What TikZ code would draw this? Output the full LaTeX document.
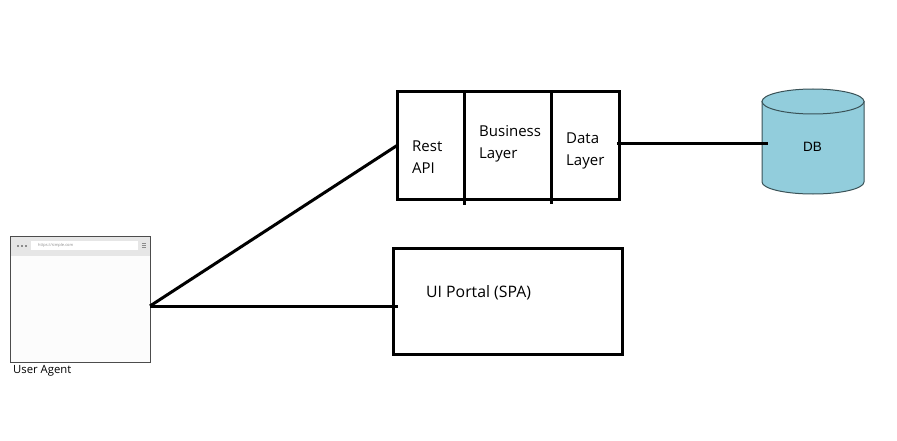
\documentclass[tikz,border=0pt]{standalone}
\usepackage{fontspec}
\setmainfont{Open Sans}
\newfontfamily\dbfont{Liberation Sans}
\definecolor{dbfill}{HTML}{92CDDC}
\definecolor{dbline}{HTML}{3A5257}
\definecolor{barfill}{HTML}{E6E6E6}
\definecolor{pagefill}{HTML}{FCFCFC}
\definecolor{iconfill}{HTML}{8C8C8C}
\tikzset{
    cellbox/.style={draw, line width=3pt, minimum height=107pt, inner sep=0pt, outer sep=0pt},
    link/.style={line width=3pt},
    boxlabel/.style={font=\fontsize{15}{22}\selectfont, align=left, anchor=west, inner sep=0pt},
}

\begin{document}
\begin{tikzpicture}[x=1pt, y=-1pt]
    \useasboundingbox (0,0) rectangle (897,441);
    % user agent window
    \node[draw=black!70, fill=pagefill, line width=1pt, minimum width=139.5pt, minimum height=126pt, inner sep=0pt, outer sep=0pt] (browser) at (80.25,299) {};
    \fill[barfill] (11,236.5) rectangle (149.5,256);
    \node[fill=white, minimum width=107pt, minimum height=9pt, inner sep=0pt] (urlbar) at (84.5,245.5) {};
    \node[anchor=west, font=\fontsize{4}{4}\selectfont, text=black!45, inner sep=0pt] (urltext) at (38,245.5) {https://simple.com};
    \foreach \x in {16.5,20.5,24.5}
        \fill[iconfill] (\x,244.5) rectangle +(2,2);
    \foreach \y in {243,245,247}
        \fill[iconfill] (141.5,\y) rectangle +(4,1);
    \node[anchor=west, font=\fontsize{11.3}{13}\selectfont, inner sep=0pt] (agentlabel) at (13,371) {User Agent};
    % layers
    \node[cellbox, minimum width=67.5pt] (restapi) at (430.75,145.5) {};
    \node[cellbox, minimum width=87pt] (business) at (508,145.5) {};
    \node[cellbox, minimum width=67.5pt] (datalayer) at (585.25,145.5) {};
    \draw[link] (business.north west) -- ++(0,113);
    \draw[link] (business.north east) -- ++(0,112);
    \node[boxlabel] (restlabel) at (412,157) {Rest\\API};
    \node[boxlabel] (businesslabel) at (479,144) {Business\\Layer};
    \node[boxlabel] (datalabel) at (566,151) {Data\\Layer};
    \node[draw, line width=3pt, minimum width=229pt, minimum height=106pt, inner sep=0pt, outer sep=0pt] (portal) at (507.5,301) {};
    \node[boxlabel, font=\fontsize{15.8}{22}\selectfont] (portallabel) at (426,293) {UI Portal (SPA)};
    % db
    \node[minimum width=102pt, minimum height=105pt, inner sep=0pt, outer sep=0pt] (db) at (813,141.5) {};
    \draw[draw=dbline, fill=dbfill, line width=1pt] (762,101.5) -- (762,182) arc[start angle=180, end angle=360, x radius=51pt, y radius=12pt] -- (864,101.5) -- cycle;
    \draw[draw=dbline, fill=dbfill, line width=1pt] (813,101.5) ellipse[x radius=51pt, y radius=12.5pt];
    \node[font=\dbfont\fontsize{13.5}{14}\selectfont, inner sep=0pt] (dblabel) at (812.5,147) {DB};
    % links
    \draw[link] ([yshift=-7pt]browser.east) -- (restapi.west);
    \draw[link] ([yshift=-7pt]browser.east) -- ([xshift=5pt,yshift=-5pt]portal.west);
    \draw[link] ([xshift=-2pt,yshift=1.5pt]datalayer.east) -- ([xshift=6pt,yshift=-2.5pt]db.west);
\end{tikzpicture}
\end{document}
